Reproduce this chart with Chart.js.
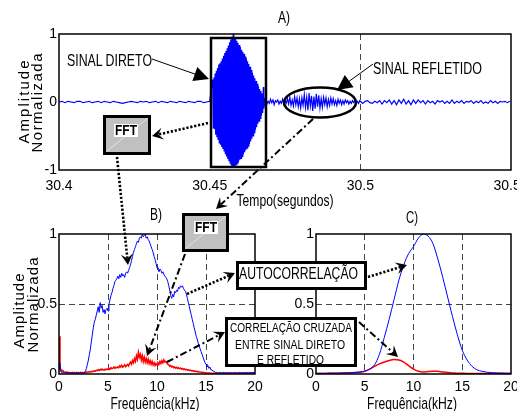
<!DOCTYPE html>
<html>
<head>
<meta charset="utf-8">
<script src="https://cdn.jsdelivr.net/npm/chart.js@4.4.0/dist/chart.umd.min.js"></script>
<style>
  html, body { margin: 0; padding: 0; background: #fff; }
  #fig { position: relative; width: 517px; height: 411px; overflow: hidden; }
  canvas { position: absolute; }
  #cA { left: 0; top: 0; }
  #cB { left: 0; top: 200px; }
  #cC { left: 260px; top: 200px; }
  #notas { position: absolute; left: 0; top: 0; }
  #notas text { font-family: 'Liberation Sans Narrow', 'Liberation Sans', Arial, sans-serif; fill: #000; }
</style>
</head>
<body>
<div id="fig">
  <canvas id="cA" width="560" height="200"></canvas>
  <canvas id="cB" width="270" height="211"></canvas>
  <canvas id="cC" width="270" height="211"></canvas>
  <svg id="notas" width="517" height="411"></svg>
</div>
<script>
// ---- A) sinal no tempo (segmentos amostrados) ----
const inicioRuido = 30.400, passoRuido = 0.001;
const ruidoInicial = [
  0.00, 0.01, -0.01, 0.01, 0.00, -0.01, 0.01, 0.01, -0.01, 0.00,
  0.01, -0.01, 0.00, 0.01, -0.01, 0.01, 0.00, -0.01, 0.01, 0.00,
  -0.01, -0.02, -0.01, 0.00, 0.01, 0.00, -0.01, 0.01, 0.00, 0.01,
  -0.01, 0.00, 0.01, -0.01, 0.01, 0.00, -0.01, 0.01, 0.00, -0.01,
  0.01, 0.00, -0.01, 0.01, 0.00, -0.01, 0.01, 0.01, -0.01, 0.00, 0.01
];
const inicioDireto = 30.4510, passoDireto = 0.0002;
const sinalDireto = [
  0.33, -0.38, 0.36, -0.40, 0.42, -0.48, 0.46, -0.52, 0.50, -0.55,
  0.55, -0.60, 0.57, -0.63, 0.60, -0.66, 0.64, -0.69, 0.68, -0.72,
  0.72, -0.76, 0.75, -0.80, 0.79, -0.84, 0.83, -0.87, 0.88, -0.90,
  0.92, -0.93, 0.96, -0.97, 1.00, -0.96, 0.95, -0.94, 0.93, -0.92,
  0.90, -0.90, 0.87, -0.88, 0.84, -0.85, 0.81, -0.83, 0.77, -0.80,
  0.74, -0.77, 0.71, -0.74, 0.67, -0.71, 0.64, -0.68, 0.60, -0.65,
  0.56, -0.62, 0.52, -0.58, 0.47, -0.54, 0.43, -0.50, 0.39, -0.45,
  0.35, -0.41, 0.31, -0.37, 0.27, -0.32, 0.23, -0.28, 0.19, -0.24,
  0.16, -0.20, 0.13, -0.16, 0.22, -0.10, 0.06, -0.05
];
const inicioRefletido = 30.4686, passoRefletido = 0.0004;
const sinalRefletido = [
  0.02, -0.03, 0.01, -0.02, 0.04, -0.01, 0.03, -0.04, 0.02, 0.00, 0.03, -0.03, 0.01, -0.02, 0.04, -0.03, 0.02, -0.02,
  0.05, -0.03, 0.07, -0.05, 0.03, -0.06, 0.08, -0.04, 0.06, -0.07, 0.05,
  -0.09, 0.06, -0.05, 0.11, -0.08, 0.07, -0.12, 0.13, -0.06, 0.09, -0.13, 0.08, -0.10, 0.12,
  -0.07, 0.10, -0.09, 0.05, -0.08, 0.07, -0.04, 0.06, -0.07, 0.04, -0.05, 0.06, -0.03,
  0.05, -0.04, 0.02, -0.05, 0.04, -0.02, 0.03, -0.04, 0.02, -0.03, 0.03, -0.01, 0.02, -0.03, 0.01,
  -0.02, 0.02, -0.01, 0.02, -0.02, 0.01, -0.02, 0.02
];
const inicioFinal = 30.5000, passoFinal = 0.0008;
const ruidoFinal = [
  0.01, -0.02, 0.01, 0.02, -0.01, -0.02, 0.01, -0.01, 0.02, -0.03, 0.02, -0.01, 0.03,
  -0.03, 0.02, -0.04, 0.03, -0.02, 0.04, -0.03, 0.02, -0.04, 0.03, -0.02, 0.03, -0.01, 0.02, -0.03,
  0.02, -0.01, 0.01, -0.03, 0.02, 0.00, 0.02, -0.02, 0.01, -0.02, 0.03, -0.02, 0.01, -0.01, 0.02,
  -0.02, 0.01, 0.00, 0.02, -0.02, 0.01, -0.01, 0.02, -0.02, 0.00, -0.02, 0.02, -0.01, 0.01, -0.02,
  0.01, 0.00, 0.01, -0.01, 0.01
];
const ticksTempo = [30.4, 30.45, 30.5, 30.55];

// ---- B) espectro FFT, passo de 0.1 kHz ----
const azulB = [
  0.08, 0.03, 0.015, 0.01, 0.008, 0.01, 0.006, 0.009, 0.007, 0.01,
  0.006, 0.009, 0.007, 0.01, 0.006, 0.008, 0.01, 0.007, 0.009, 0.006,
  0.008, 0.01, 0.007, 0.009, 0.008, 0.01, 0.01, 0.02, 0.04, 0.07,
  0.10, 0.14, 0.18, 0.23, 0.28, 0.33, 0.37, 0.39, 0.42, 0.45,
  0.48, 0.44, 0.51, 0.47, 0.49, 0.44, 0.46, 0.43, 0.46, 0.47,
  0.45, 0.50, 0.53, 0.56, 0.58, 0.61, 0.63, 0.66, 0.67, 0.68,
  0.70, 0.68, 0.71, 0.69, 0.72, 0.70, 0.71, 0.69, 0.72, 0.73,
  0.72, 0.74, 0.76, 0.78, 0.81, 0.84, 0.87, 0.89, 0.91, 0.93,
  0.95, 0.94, 0.97, 0.98, 0.97, 1.00, 0.98, 0.99, 1.00, 0.97,
  0.98, 0.96, 0.95, 0.93, 0.91, 0.89, 0.87, 0.84, 0.82, 0.79,
  0.76, 0.75, 0.73, 0.75, 0.74, 0.72, 0.73, 0.71, 0.70, 0.69,
  0.68, 0.66, 0.63, 0.60, 0.56, 0.54, 0.57, 0.55, 0.59, 0.58,
  0.60, 0.59, 0.62, 0.61, 0.63, 0.62, 0.63, 0.61, 0.60, 0.59,
  0.57, 0.54, 0.51, 0.48, 0.45, 0.42, 0.39, 0.36, 0.33, 0.30,
  0.27, 0.25, 0.22, 0.20, 0.18, 0.16, 0.14, 0.12, 0.10, 0.08,
  0.07, 0.05, 0.06, 0.04, 0.05, 0.03, 0.03, 0.02, 0.02, 0.015,
  0.01, 0.012, 0.008, 0.011, 0.009, 0.012, 0.008, 0.01, 0.012, 0.009,
  0.011, 0.008, 0.01, 0.012, 0.009, 0.01, 0.011, 0.008, 0.01, 0.012,
  0.009, 0.011, 0.008, 0.01, 0.012, 0.009, 0.01, 0.011, 0.008, 0.01,
  0.012, 0.009, 0.011, 0.008, 0.01, 0.012, 0.009, 0.01, 0.011, 0.008,
  0.01
];
const vermelhoB = [
  0.27, 0.05, 0.03, 0.02, 0.025, 0.015, 0.012, 0.01, 0.015, 0.008,
  0.012, 0.008, 0.01, 0.006, 0.012, 0.008, 0.01, 0.007, 0.011, 0.008,
  0.01, 0.007, 0.012, 0.009, 0.01, 0.008, 0.012, 0.01, 0.014, 0.012,
  0.015, 0.013, 0.017, 0.015, 0.02, 0.018, 0.022, 0.02, 0.026, 0.024,
  0.03, 0.025, 0.033, 0.028, 0.035, 0.03, 0.027, 0.034, 0.03, 0.036,
  0.032, 0.04, 0.035, 0.045, 0.038, 0.042, 0.05, 0.04, 0.048, 0.044,
  0.05, 0.045, 0.058, 0.05, 0.062, 0.048, 0.055, 0.065, 0.052, 0.06,
  0.068, 0.058, 0.075, 0.085, 0.07, 0.095, 0.08, 0.11, 0.09, 0.13,
  0.105, 0.155, 0.12, 0.14, 0.1, 0.13, 0.09, 0.12, 0.085, 0.11,
  0.08, 0.105, 0.075, 0.095, 0.07, 0.09, 0.065, 0.08, 0.06, 0.075,
  0.065, 0.08, 0.07, 0.09, 0.075, 0.095, 0.08, 0.1, 0.085, 0.09,
  0.08, 0.07, 0.065, 0.055, 0.06, 0.05, 0.055, 0.045, 0.05, 0.042,
  0.048, 0.04, 0.045, 0.038, 0.042, 0.035, 0.04, 0.032, 0.036, 0.03,
  0.033, 0.028, 0.03, 0.025, 0.028, 0.022, 0.025, 0.02, 0.022, 0.018,
  0.02, 0.016, 0.018, 0.014, 0.015, 0.012, 0.013, 0.01, 0.011, 0.009,
  0.009, 0.008, 0.008, 0.007, 0.007, 0.006, 0.006, 0.006, 0.005, 0.005,
  0.005, 0.004, 0.005, 0.006, 0.004, 0.005, 0.005, 0.004, 0.006, 0.005,
  0.004, 0.005, 0.005, 0.004, 0.006, 0.005, 0.004, 0.005, 0.005, 0.004,
  0.006, 0.005, 0.004, 0.005, 0.005, 0.004, 0.006, 0.005, 0.004, 0.005,
  0.005, 0.004, 0.006, 0.005, 0.004, 0.005, 0.005, 0.004, 0.006, 0.005,
  0.005
];
const freqB = azulB.map((_, i) => i / 10);

// ---- C) correlacoes, passo de 0.5 kHz ----
const azulC = [
  0.005, 0.005, 0.005, 0.006, 0.006, 0.007, 0.008, 0.009, 0.011, 0.014,
  0.02, 0.035, 0.065, 0.14, 0.26, 0.39, 0.53, 0.67, 0.78, 0.86,
  0.91, 0.97, 1.0, 0.985, 0.93, 0.82, 0.69, 0.55, 0.41, 0.28,
  0.17, 0.1, 0.055, 0.03, 0.02, 0.013, 0.01, 0.008, 0.007, 0.006,
  0.005
];
const vermelhoC = [
  0.004, 0.004, 0.004, 0.005, 0.005, 0.006, 0.007, 0.008, 0.01, 0.013,
  0.02, 0.035, 0.055, 0.072, 0.086, 0.097, 0.104, 0.1, 0.085, 0.06,
  0.035, 0.02, 0.015, 0.018, 0.02, 0.019, 0.014, 0.01, 0.008, 0.006,
  0.005, 0.004, 0.004, 0.004, 0.003, 0.003, 0.003, 0.003, 0.003, 0.003,
  0.003
];
const freqC = azulC.map((_, i) => i / 2);

const fonte = "'Liberation Sans Narrow', 'Liberation Sans', Arial, sans-serif";
Chart.defaults.font.family = fonte;
Chart.defaults.color = '#000';

function amostras(t0, dt, ys) {
  return ys.map((y, i) => ({ x: t0 + i * dt, y: y }));
}
function pares(xs, ys) {
  return xs.map((x, i) => ({ x: x, y: ys[i] }));
}

const moldura = {
  id: 'moldura',
  afterDraw(chart) {
    const a = chart.chartArea, c = chart.ctx;
    c.save();
    c.strokeStyle = '#000';
    c.lineWidth = 1.5;
    c.strokeRect(a.left, a.top, a.right - a.left, a.bottom - a.top);
    c.restore();
  }
};

function fixa(largura, altura) {
  return function (s) {
    if (largura != null) s.width = largura;
    if (altura != null) s.height = altura;
    s.paddingLeft = 0; s.paddingRight = 0; s.paddingTop = 0; s.paddingBottom = 0;
  };
}

function eixoX(min, max, passo, tracejados, alt, pad, fmt) {
  return {
    type: 'linear', min: min, max: max,
    afterFit: fixa(null, alt),
    afterBuildTicks: s => { s.ticks = s.ticks.filter(t => t.value >= min - 1e-9 && t.value <= max + 1e-9); },
    ticks: { stepSize: passo, padding: pad, maxRotation: 0, autoSkip: false, font: { size: 14 }, callback: fmt },
    grid: {
      drawTicks: false, lineWidth: 1,
      color: c => tracejados.some(v => Math.abs(v - c.tick.value) < 1e-6) ? '#444' : 'rgba(0,0,0,0)'
    },
    border: { display: false, dash: [6, 4] }
  };
}
function eixoY(min, max, passo, tracejados, larg, fmt) {
  return {
    min: min, max: max,
    afterFit: fixa(larg, null),
    ticks: { stepSize: passo, padding: 2, font: { size: 14 }, callback: fmt },
    grid: {
      display: tracejados.length > 0, drawTicks: false, lineWidth: 1,
      color: c => tracejados.some(v => Math.abs(v - c.tick.value) < 1e-6) ? '#444' : 'rgba(0,0,0,0)'
    },
    border: { display: false, dash: [6, 4] }
  };
}
const fmtNum = v => String(Math.round(v * 100) / 100);

const comum = {
  responsive: false,
  animation: false,
  plugins: { legend: { display: false }, tooltip: { enabled: false } },
  elements: { point: { radius: 0 } }
};

const sinalA = [].concat(
  amostras(inicioRuido, passoRuido, ruidoInicial),
  amostras(inicioDireto, passoDireto, sinalDireto),
  amostras(inicioRefletido, passoRefletido, sinalRefletido),
  amostras(inicioFinal, passoFinal, ruidoFinal)
);

new Chart(document.getElementById('cA'), {
  type: 'line',
  data: { datasets: [{ data: sinalA, borderColor: '#0000ff', borderWidth: 1.2, tension: 0 }] },
  options: Object.assign({}, comum, {
    layout: { padding: { left: 35, right: 49, top: 34, bottom: 8 } },
    scales: {
      x: eixoX(ticksTempo[0], ticksTempo[ticksTempo.length - 1], 0.05, [30.5], 22, 8, fmtNum),
      y: eixoY(-1, 1, 1, [], 24, fmtNum)
    }
  }),
  plugins: [moldura]
});

new Chart(document.getElementById('cB'), {
  type: 'line',
  data: { datasets: [
    { data: pares(freqB, azulB), borderColor: '#0000ff', borderWidth: 1, tension: 0 },
    { data: pares(freqB, vermelhoB), borderColor: '#ff0000', borderWidth: 1.5, tension: 0 }
  ] },
  options: Object.assign({}, comum, {
    layout: { padding: { left: 35, right: 15, top: 34, bottom: 17 } },
    scales: {
      x: eixoX(0, 20, 5, [5, 10, 15], 20, 5, fmtNum),
      y: eixoY(0, 1, 0.5, [0.5], 24, fmtNum)
    }
  }),
  plugins: [moldura]
});

new Chart(document.getElementById('cC'), {
  type: 'line',
  data: { datasets: [
    { data: pares(freqC, azulC), borderColor: '#0000ff', borderWidth: 1, cubicInterpolationMode: 'monotone' },
    { data: pares(freqC, vermelhoC), borderColor: '#ff0000', borderWidth: 1.5, cubicInterpolationMode: 'monotone' }
  ] },
  options: Object.assign({}, comum, {
    layout: { padding: { left: 32, right: 19, top: 34, bottom: 17 } },
    scales: {
      x: eixoX(0, 20, 5, [5, 10, 15], 20, 5, fmtNum),
      y: eixoY(0, 1, 0.5, [0.5], 24, fmtNum)
    }
  }),
  plugins: [moldura]
});

// ---- anotacoes ----
const svgNS = 'http://www.w3.org/2000/svg';
const svg = document.getElementById('notas');
function el(tag, attrs, texto) {
  const e = document.createElementNS(svgNS, tag);
  for (const k in attrs) e.setAttribute(k, attrs[k]);
  if (texto) e.textContent = texto;
  svg.appendChild(e);
  return e;
}
function texto(x, y, s, tam, compr, extra) {
  const a = Object.assign({ x: x, y: y, 'font-size': tam, 'text-anchor': 'middle' }, extra || {});
  if (compr) { a.textLength = compr; a.lengthAdjust = 'spacingAndGlyphs'; }
  return el('text', a, s);
}
function seta(x1, y1, x2, y2, e) {
  const dx = x2 - x1, dy = y2 - y1, len = Math.hypot(dx, dy);
  const ux = dx / len, uy = dy / len, nx = -uy, ny = ux;
  const L = e.cab, W = e.larg;
  const bx = x2 - ux * L, by = y2 - uy * L;
  const fim = e.farpa ? 0.6 : 0.9;
  el('line', { x1: x1, y1: y1, x2: x2 - ux * L * fim, y2: y2 - uy * L * fim,
    stroke: '#000', 'stroke-width': e.w, 'stroke-dasharray': e.dash || 'none' });
  let pts = [[x2, y2], [bx + nx * W, by + ny * W]];
  if (e.farpa) pts.push([x2 - ux * L * 0.6, y2 - uy * L * 0.6]);
  pts.push([bx - nx * W, by - ny * W]);
  el('polygon', { points: pts.map(p => p[0].toFixed(1) + ',' + p[1].toFixed(1)).join(' '), fill: '#000' });
}
const pont = { w: 2.6, dash: '2.2 1.8', cab: 11, larg: 6, farpa: true };
const traco = { w: 2, dash: '7 3 2 3', cab: 11, larg: 6, farpa: true };
const solida = { w: 1, cab: 15, larg: 7.5, farpa: false };

// titulos e eixos
texto(284, 23, 'A)', 17, 12);
texto(156, 220, 'B)', 17, 12);
texto(412, 223, 'C)', 17, 12);
texto(285, 206, 'Tempo(segundos)', 17, 97);
texto(155, 409, 'Frequência(kHz)', 17, 89);
texto(412, 409, 'Frequência(kHz)', 17, 90);
function rotulo(bx, cy, s, compr) {
  el('text', { x: 0, y: 0, 'font-size': 15, 'text-anchor': 'middle', textLength: compr, lengthAdjust: 'spacing',
    transform: 'translate(' + bx + ',' + cy + ') rotate(-90)' }, s);
}
rotulo(29, 102, 'Amplitude', 83);
rotulo(42, 103, 'Normalizada', 99);
rotulo(24, 311, 'Amplitude', 75);
rotulo(38, 305, 'Normalizada', 95);

// setas
seta(208, 123, 152, 136, pont);
seta(117, 157, 128, 265, pont);
seta(187, 294, 235, 273, pont);
seta(368, 277, 407, 265, pont);
seta(313, 119, 216, 209, traco);
seta(185, 254, 147, 356, traco);
seta(167, 362, 225, 332, traco);
seta(359, 322, 398, 357, traco);
seta(152, 59, 209, 79, solida);
seta(373, 64, 337, 90, solida);

// caixas
el('rect', { x: 211, y: 38, width: 55, height: 129, fill: 'none', stroke: '#000', 'stroke-width': 2.5 });
el('ellipse', { cx: 320, cy: 102.5, rx: 36, ry: 15, fill: 'none', stroke: '#000', 'stroke-width': 2.5 });
function caixaFFT(x, y, w, h, tx, ty) {
  el('rect', { x: x, y: y, width: w, height: h, fill: '#c0c0c0', stroke: '#000', 'stroke-width': 3 });
  el('line', { x1: x + 2, y1: y + h - 2, x2: x + w - 2, y2: y + 2, stroke: '#e8e8e8', 'stroke-width': 0.8 });
  el('rect', { x: tx - 12, y: ty - 11, width: 24, height: 13, fill: '#fff' });
  texto(tx, ty, 'FFT', 14, 22, { 'font-weight': 'bold' });
}
caixaFFT(104.5, 116.5, 45, 37, 126, 135);
caixaFFT(183.5, 214.5, 44, 36, 206, 232);
el('rect', { x: 237.5, y: 262.5, width: 128, height: 26, fill: '#fff', stroke: '#000', 'stroke-width': 3 });
texto(298.5, 279, 'AUTOCORRELAÇÃO', 16, 119);
el('rect', { x: 226.5, y: 318.5, width: 129, height: 47, fill: '#fff', stroke: '#000', 'stroke-width': 3 });
texto(291, 332, 'CORRELAÇÃO CRUZADA', 12, 122);
texto(290, 348.5, 'ENTRE SINAL DIRETO', 12, 110);
texto(290.5, 363.5, 'E  REFLETIDO', 12, 67, { 'xml:space': 'preserve' });
texto(109.5, 66, 'SINAL DIRETO', 17, 85);
texto(427.5, 74, 'SINAL REFLETIDO', 16, 109);
</script>
</body>
</html>
